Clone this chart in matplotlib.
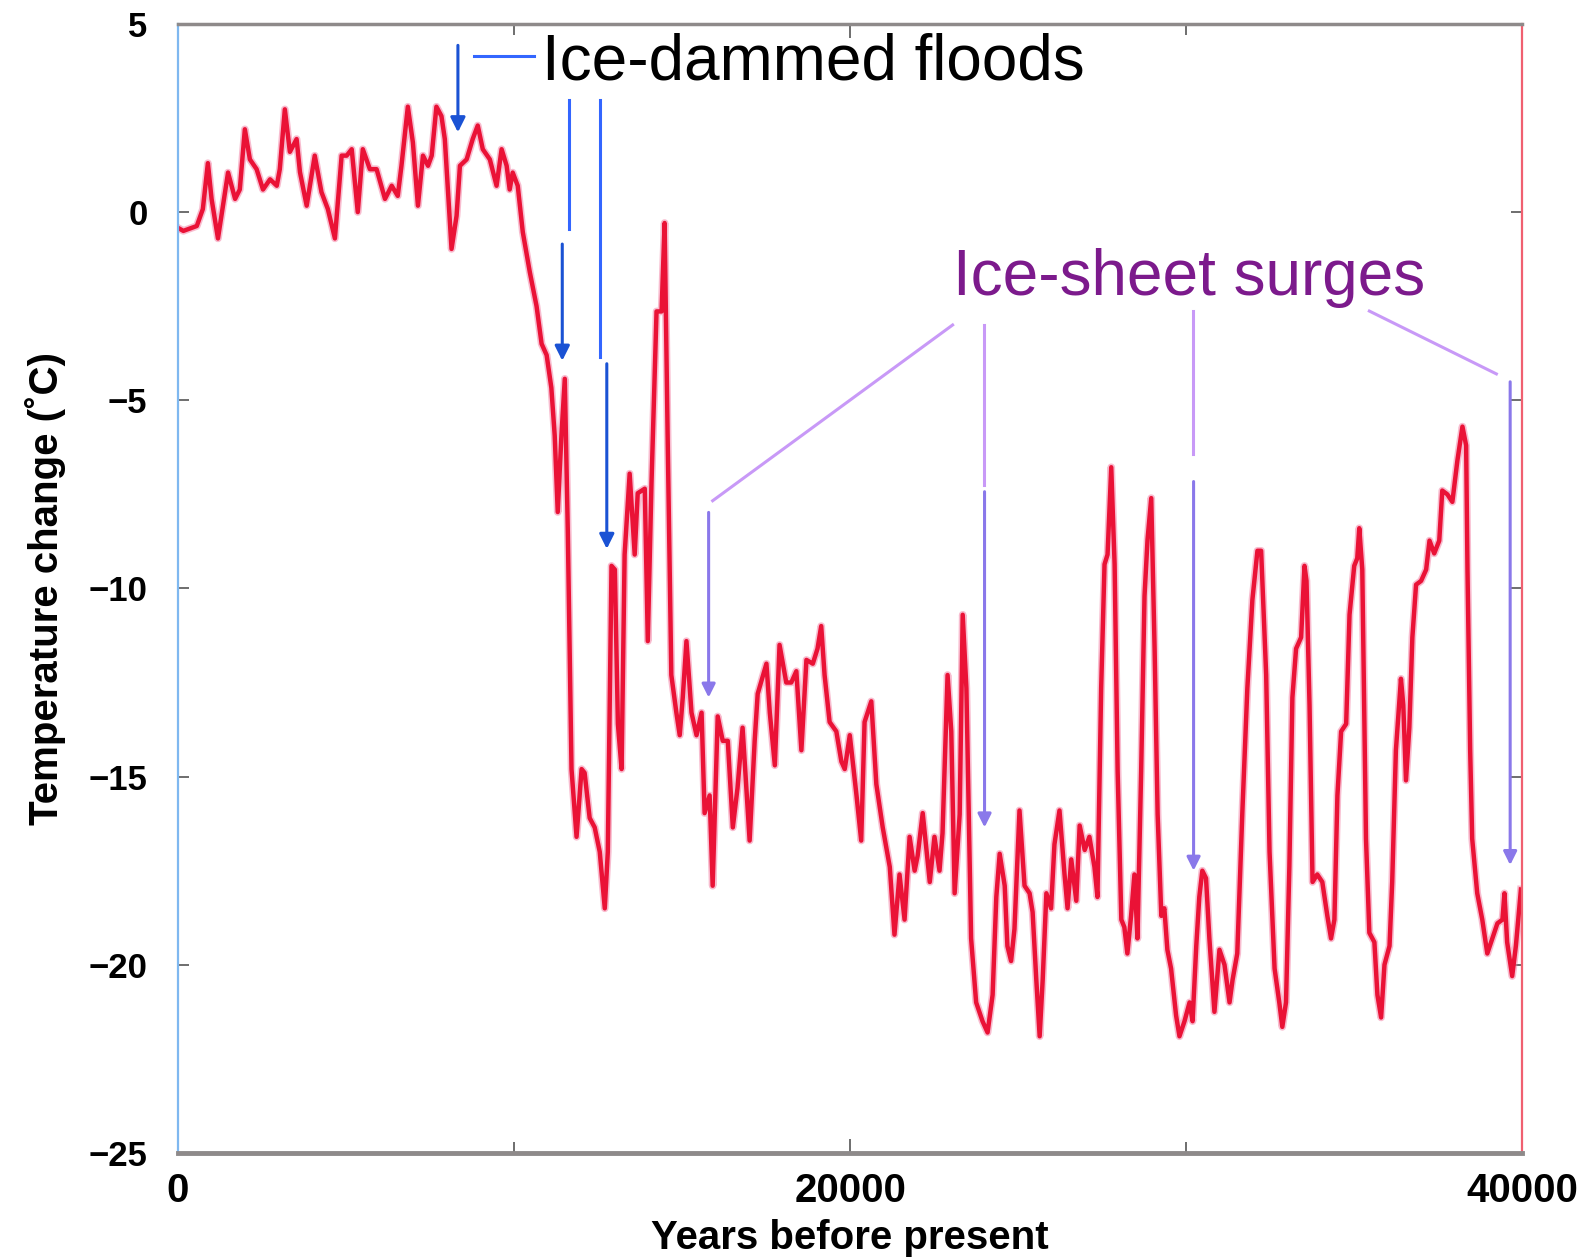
import numpy as np
import matplotlib
matplotlib.use("Agg")
import matplotlib.pyplot as plt
from matplotlib.ticker import FixedLocator

plt.rcParams['font.family'] = ['Liberation Sans', 'DejaVu Sans']

# temperature record
years = [60, 160, 560, 740, 890, 1000, 1190, 1340, 1490, 1700,
         1840, 1990, 2140, 2340, 2530, 2740, 2940, 3030, 3180, 3330,
         3530, 3630, 3830, 4070, 4270, 4460, 4670, 4870, 5020, 5170,
         5350, 5500, 5710, 5910, 6160, 6360, 6540, 6650, 6840, 6990,
         7140, 7290, 7440, 7550, 7690, 7840, 7940, 8140, 8290, 8390,
         8590, 8770, 8920, 9070, 9280, 9480, 9630, 9780, 9870, 9960,
         10110, 10260, 10470, 10670, 10820, 10970, 11110, 11210, 11300, 11410,
         11510, 11600, 11710, 11860, 12010, 12100, 12250, 12400, 12550, 12700,
         12790, 12900, 13000, 13090, 13200, 13290, 13440, 13590, 13680, 13890,
         13980, 14090, 14240, 14390, 14480, 14570, 14680, 14830, 14930, 15020,
         15130, 15280, 15430, 15580, 15670, 15820, 15910, 16060, 16210, 16360,
         16510, 16650, 16800, 17010, 17160, 17250, 17510, 17610, 17760, 17900,
         18100, 18250, 18400, 18550, 18700, 18890, 19030, 19140, 19240, 19390,
         19590, 19740, 19840, 19990, 20190, 20330, 20430, 20630, 20780, 20970,
         21180, 21320, 21470, 21620, 21770, 21920, 22010, 22160, 22370, 22510,
         22660, 22750, 22900, 23010, 23110, 23260, 23350, 23460, 23600, 23750,
         23940, 24090, 24240, 24350, 24450, 24600, 24680, 24790, 24890, 25040,
         25190, 25340, 25430, 25540, 25640, 25730, 25840, 25980, 26080, 26230,
         26380, 26470, 26580, 26730, 26830, 26980, 27120, 27270, 27360, 27470,
         27570, 27660, 27770, 27870, 27960, 28070, 28160, 28250, 28360, 28460,
         28550, 28660, 28760, 28850, 28960, 29060, 29150, 29260, 29350, 29440,
         29550, 29700, 29800, 29950, 30100, 30190, 30300, 30390, 30480, 30590,
         30690, 30840, 30990, 31140, 31290, 31380, 31520, 31670, 31820, 31970,
         32120, 32230, 32380, 32480, 32630, 32770, 32860, 32970, 33070, 33160,
         33270, 33420, 33520, 33580, 33670, 33760, 33900, 34050, 34200, 34310,
         34410, 34500, 34610, 34760, 34860, 35000, 35090, 35150, 35240, 35350,
         35450, 35600, 35690, 35800, 35900, 36050, 36130, 36240, 36390, 36460,
         36540, 36640, 36730, 36840, 36990, 37140, 37240, 37380, 37530, 37620,
         37770, 37920, 38070, 38220, 38330, 38370, 38450, 38510, 38660, 38810,
         38960, 39110, 39260, 39410, 39470, 39550, 39700, 39810, 39960]

temps = [-0.45, -0.5, -0.37, 0.08, 1.3, 0.35, -0.7, 0.17, 1.05, 0.35,
         0.6, 2.2, 1.4, 1.14, 0.6, 0.87, 0.7, 1.14, 2.73, 1.6,
         1.94, 1.06, 0.17, 1.5, 0.53, 0.08, -0.7, 1.5, 1.5, 1.67,
         0.0, 1.67, 1.14, 1.14, 0.35, 0.7, 0.43, 1.23, 2.8, 1.85,
         0.17, 1.5, 1.23, 1.5, 2.8, 2.55, 1.94, -0.98, -0.1, 1.23,
         1.4, 1.94, 2.3, 1.67, 1.4, 0.7, 1.67, 1.23, 0.6, 1.05,
         0.7, -0.53, -1.6, -2.5, -3.5, -3.8, -4.67, -5.94, -7.97, -5.94,
         -4.43, -8.5, -14.8, -16.6, -14.8, -14.9, -16.1, -16.35, -17.0, -18.5,
         -17.0, -9.4, -9.5, -13.6, -14.8, -9.1, -6.95, -9.1, -7.47, -7.35,
         -11.4, -7.2, -2.64, -2.64, -0.29, -5.94, -12.3, -13.3, -13.9, -12.9,
         -11.4, -13.3, -13.9, -13.3, -15.97, -15.5, -17.9, -13.4, -14.05, -14.05,
         -16.35, -15.3, -13.7, -16.7, -14.05, -12.8, -12.0, -13.3, -14.7, -11.5,
         -12.5, -12.5, -12.2, -14.3, -11.9, -12.0, -11.6, -11.0, -12.3, -13.55,
         -13.8, -14.6, -14.8, -13.9, -15.5, -16.7, -13.55, -13.0, -15.2, -16.35,
         -17.4, -19.2, -17.6, -18.8, -16.6, -17.5, -17.1, -15.97, -17.8, -16.6,
         -17.5, -16.5, -12.3, -13.8, -18.1, -16.0, -10.7, -12.65, -19.3, -21.0,
         -21.5, -21.8, -20.8, -18.2, -17.05, -17.9, -19.5, -19.9, -19.05, -15.9,
         -17.9, -18.1, -18.6, -20.4, -21.9, -20.4, -18.1, -18.5, -16.8, -15.9,
         -17.6, -18.5, -17.2, -18.3, -16.3, -16.95, -16.6, -17.4, -18.2, -12.65,
         -9.36, -9.1, -6.78, -9.36, -14.85, -18.8, -19.0, -19.7, -18.7, -17.6,
         -19.3, -14.85, -10.2, -8.7, -7.6, -11.6, -16.0, -18.7, -18.5, -19.6,
         -20.1, -21.35, -21.9, -21.5, -21.0, -21.5, -19.5, -18.2, -17.5, -17.7,
         -19.3, -21.25, -19.6, -20.0, -21.0, -20.4, -19.7, -15.97, -12.65, -10.3,
         -9.0, -9.0, -12.3, -17.0, -20.1, -21.0, -21.65, -21.0, -17.4, -12.9,
         -11.6, -11.3, -9.4, -9.8, -13.1, -17.8, -17.6, -17.8, -18.7, -19.3,
         -18.8, -15.5, -13.8, -13.6, -10.7, -9.4, -9.2, -8.4, -9.5, -16.65,
         -19.15, -19.4, -20.8, -21.4, -20.0, -19.5, -17.8, -14.3, -12.4, -13.1,
         -15.1, -13.7, -11.3, -9.9, -9.8, -9.5, -8.73, -9.07, -8.73, -7.4,
         -7.5, -7.7, -6.6, -5.7, -6.2, -9.5, -14.3, -16.65, -18.1, -18.8,
         -19.7, -19.3, -18.9, -18.8, -18.1, -19.4, -20.3, -19.5, -18.0]

x_ticks = [0, 20000, 40000]
x_minor = [10000, 30000]
y_ticks = [5, 0, -5, -10, -15, -20, -25]

# annotation targets (years, arrow top, arrow tip)
flood_arrows = [(8330, 4.43, 2.12), (11435, -0.85, -3.95), (12760, -4.03, -8.95)]
surge_arrows = [(15790, -7.98, -12.9), (24000, -7.43, -16.35),
                (30220, -7.16, -17.5), (39640, -4.51, -17.35)]


def main():
    fig = plt.figure(figsize=(15.89, 12.58), dpi=100)
    ax = fig.add_axes([0.112, 0.0835, 0.846, 0.8975])

    ax.plot(years, temps, color='#f27aa0', lw=5.5, alpha=0.5, solid_joinstyle='round')
    ax.plot(years, temps, color='#ea1236', lw=3.2, solid_joinstyle='round')

    ax.set_xlim(0, 40000)
    ax.set_ylim(-25, 5)
    ax.xaxis.set_major_locator(FixedLocator(x_ticks))
    ax.xaxis.set_minor_locator(FixedLocator(x_minor))
    ax.yaxis.set_major_locator(FixedLocator(y_ticks))
    ax.set_xticklabels([str(t) for t in x_ticks])
    ax.tick_params(axis='both', which='both', direction='in', top=True, right=True,
                   color='#555555', width=1.2)
    ax.tick_params(axis='x', which='major', length=10, pad=14, labelsize=29)
    ax.tick_params(axis='x', which='minor', length=8)
    ax.tick_params(axis='y', length=8, pad=22, labelsize=25)
    for lab in ax.get_xticklabels() + ax.get_yticklabels():
        lab.set_fontweight('bold')

    ax.set_xlabel('Years before present', fontsize=29, fontweight='bold', labelpad=6)
    ax.set_ylabel('Temperature change (˚C)', fontsize=29, fontweight='bold', labelpad=16)

    ax.spines['top'].set_color('#8e8a8a')
    ax.spines['top'].set_linewidth(2.5)
    ax.spines['bottom'].set_color('#8e8a8a')
    ax.spines['bottom'].set_linewidth(3.5)
    ax.spines['left'].set_color('#7fb8f0')
    ax.spines['left'].set_linewidth(1.6)
    ax.spines['right'].set_color('#f06070')
    ax.spines['right'].set_linewidth(1.6)

    # ice-dammed floods
    ax.text(10830, 3.53, 'Ice-dammed floods', fontsize=46, color='black', va='baseline')
    ax.plot([8800, 10590], [4.16, 4.16], color='#3366ff', lw=2.2)
    ax.plot([11630, 11630], [2.97, -0.45], color='#3366ff', lw=2.2)
    ax.plot([12570, 12570], [2.97, -3.85], color='#3366ff', lw=2.2)
    for t, top, tip in flood_arrows:
        ax.annotate('', xy=(t, tip), xytext=(t, top),
                    arrowprops=dict(arrowstyle='-|>', color='#1a52d4', lw=2.2,
                                    mutation_scale=22, shrinkA=0, shrinkB=0))

    # ice-sheet surges
    ax.text(23050, -2.2, 'Ice-sheet surges', fontsize=46, color='#7c1a8c', va='baseline')
    ax.plot([23050, 15910], [-3.0, -7.67], color='#c899f7', lw=2.2)
    ax.plot([23970, 23970], [-3.0, -7.24], color='#c899f7', lw=2.2)
    ax.plot([30190, 30190], [-2.63, -6.42], color='#c899f7', lw=2.2)
    ax.plot([35450, 39230], [-2.63, -4.30], color='#c899f7', lw=2.2)
    for t, top, tip in surge_arrows:
        ax.annotate('', xy=(t, tip), xytext=(t, top),
                    arrowprops=dict(arrowstyle='-|>', color='#8a78ea', lw=2.2,
                                    mutation_scale=20, shrinkA=0, shrinkB=0))

    fig.savefig('out.png', dpi=100)


if __name__ == "__main__":
    main()
